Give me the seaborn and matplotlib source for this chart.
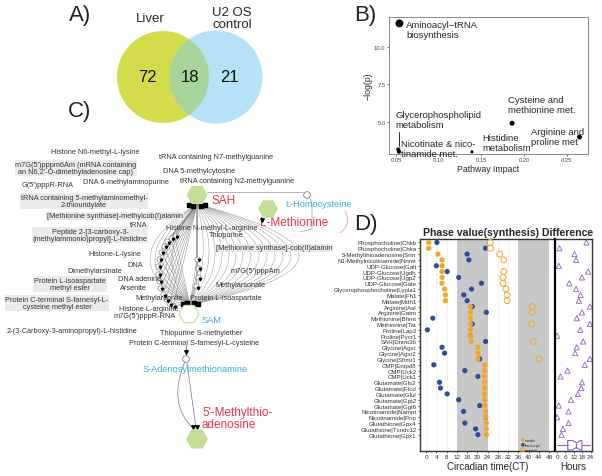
import numpy as np
import matplotlib
matplotlib.use("Agg")
import matplotlib.pyplot as plt
import seaborn as sns
from matplotlib.patches import Circle, RegularPolygon, PathPatch
from matplotlib.path import Path

sns.set_theme(style="ticks")
plt.rcParams['font.family'] = ['Liberation Sans', 'DejaVu Sans']

# ---- A) Venn counts
venn_sets = ["Liver", "U2 OS\ncontrol"]
venn_counts = [72, 18, 21]

# ---- B) pathway analysis
pathways = ["Aminoacyl\u2212tRNA\nbiosynthesis", "Glycerophospholipid\nmetabolism",
            "Nicotinate & nico-\ntinamide met.", "Histidine\nmetabolism",
            "Cysteine and\nmethionine met.", "Arginine and\nproline met"]
impact = [0.054, 0.0527, 0.0535, 0.139, 0.186, 0.265]
neglogp = [11.53, 3.2, 3.05, 3.04, 4.93, 4.02]
hits = [9, 3, 3, 2, 4, 4]

# ---- C) network node names
hubs = ["SAH", "L-Methionine", "SAM", "5'-Methylthio-\nadenosine"]
small_nodes = ["L-Homocysteine", "S-Adenosylmethionamine"]
c_labels = ["Histone N6-methyl-L-lysine",
            "m7G(5')pppm6Am (mRNA containing\nan N6,2'-O-dimethyladenosine cap)",
            "G(5')pppR-RNA", "DNA 6-methylaminopurine",
            "tRNA containing N7-methylguanine", "DNA 5-methylcytosine",
            "tRNA containing N2-methylguanine",
            "tRNA containing 5-methylaminomethyl-\n2-thiouridylate",
            "[Methionine synthase]-methylcob(I)alamin", "tRNA",
            "Peptide 2-[3-carboxy-3-\n(methylammonio)propyl]-L-histidine",
            "Histone N-methyl-L-arginine", "Thiopurine",
            "[Methionine synthase]-cob(II)alamin", "Histone-L-lysine", "DNA",
            "Dimethylarsinate", "DNA adenine", "Protein L-isoaspartate\nmethyl ester",
            "Arsenite", "m7G(5')pppAm", "Methylarsonate", "Methylarsonite",
            "Protein L-isoaspartate",
            "Protein C-terminal S-farnesyl-L-\ncysteine methyl ester",
            "Histone L-arginine", "m7G(5')pppR-RNA",
            "2-(3-Carboxy-3-aminopropyl)-L-histidine", "Thiopurine S-methylether",
            "Protein C-terminal S-farnesyl-L-cysteine"]
# layout (pixel x, pixel y, alignment, shaded box)
c_pos = [(51, 153, 'left', 0), (76, 169, 'center', 1), (22, 186, 'left', 0),
         (83, 183, 'left', 0), (159, 158, 'left', 0), (163, 172, 'left', 0),
         (180, 182, 'left', 0), (84, 202, 'center', 1), (47, 217, 'left', 1),
         (130, 226, 'left', 0), (90, 236, 'center', 1), (166, 229, 'left', 0),
         (209, 236, 'left', 0), (216, 249, 'left', 1), (88, 254, 'left', 0),
         (127, 266, 'left', 0), (67, 272, 'left', 0), (118, 280, 'left', 0),
         (70, 285, 'center', 1), (120, 289, 'left', 0), (231, 272, 'left', 0),
         (215, 286, 'left', 0), (135, 299, 'left', 0), (190, 299, 'left', 0),
         (57, 304, 'center', 1), (119, 310, 'left', 0), (114, 317, 'left', 0),
         (7, 332, 'left', 0), (160, 334, 'left', 0), (129, 344, 'left', 0)]

# ---- D) phase values
pairs = ["Phosphocholine|Chkb", "Phosphocholine|Chka", "5-Methylthioadenosine|Srm",
         "N1-Methylnicotinamide|Nnmt", "UDP-Glucose|Galt", "UDP-Glucose|Ugdh",
         "UDP-Glucose|Ugp2", "UDP-Glucose|Gale", "Glycerophosphocholine|Lypla1",
         "Malate|Fh1", "Malate|Mdh1", "Arginine|Asl", "Arginine|Gatm",
         "Methionine|Bhmt", "Methionine|Tat", "Proline|Lap3", "Proline|Pycr1",
         "SAH|Dnmt3b", "Glycine|Agxt", "Glycine|Agxt2", "Glycine|Shmt1",
         "CMP|Entpd8", "CMP|Uck2", "CMP|Uck1", "Glutamate|Gls2", "Glutamate|Ftcd",
         "Glutamate|Glul", "Glutamate|Gpt2", "Glutamate|Ggt6", "Nicotinamide|Nampt",
         "Nicotinamide|Pnp", "Glutathione|Gpx4", "Glutathione|Txndc12",
         "Glutathione|Gpx1"]
ct_metab = [1.0, 1.0, 4.6, 6.2, 6.2, 6.2, 6.2, 6.2, 7.2, 7.5, 7.5, 17.3, 17.3,
            17.3, 17.3, 17.3, 17.3, 17.6, 20.2, 20.2, 20.2, 22.8, 22.8, 22.8,
            22.8, 22.8, 22.8, 22.8, 22.8, 23.2, 23.2, 23.5, 23.5, 23.5]
ct_transcript = [4.2, 23.2, 16.0, 16.7, 4.0, 8.2, 12.7, 21.6, 17.7, 14.7, 16.0,
                 18.0, 23.5, 2.6, 18.0, 0.5, 17.3, 23.2, 6.2, 7.2, 20.9, 3.0,
                 15.1, 20.2, 5.2, 5.6, 8.2, 12.7, 20.9, 14.6, 23.2, 15.1, 19.3, 20.2]
ct_metab2 = [25.0, 25.1, 28.7, 30.3, np.nan, 30.3, 30.0, 30.0, 31.2, 31.6, 31.6,
             41.4, 41.4, np.nan, 41.2, np.nan, np.nan, 41.8, np.nan, np.nan, 44.1,
             np.nan, np.nan, np.nan, np.nan, np.nan, np.nan, np.nan, np.nan,
             np.nan, np.nan, np.nan, np.nan, np.nan]
hours_diff = [21.0, 1.7, 12.4, 13.6, 1.2, 22.3, 17.8, 8.7, 13.6, 16.8, 15.6,
              23.5, 17.8, 14.1, 23.5, 16.6, 0.0, 18.6, 14.1, 12.9, 23.5, 19.8,
              7.4, 2.5, 17.8, 17.3, 14.9, 9.9, 1.2, 8.2, 0.0, 8.2, 4.2, 3.2]
rows = np.arange(1, len(pairs) + 1)

W, H = 602, 477
fig = plt.figure(figsize=(W / 100, H / 100), dpi=100)


def rect(l, t, r, b):
    return [l / W, 1 - b / H, (r - l) / W, (b - t) / H]


# overlay canvas in pixel coordinates for A and C
ax0 = fig.add_axes([0, 0, 1, 1])
ax0.set_xlim(0, W)
ax0.set_ylim(H, 0)
ax0.axis('off')

for lab, (x, y) in zip(["A)", "B)", "C)", "D)"], [(80, 16), (365, 16), (80, 111), (366, 225)]):
    ax0.text(x, y, lab, fontsize=16, ha='center', va='center', color='#222')

# ---- A) Venn
yellow, blue_c, mix = '#d3dd4c', '#b6e1f6', '#a8d49b'
left_c = Circle((163, 78), 46, fc=yellow, ec='none')
right_c = Circle((216, 78), 46.5, fc=blue_c, ec='none')
ax0.add_patch(left_c)
ax0.add_patch(right_c)
ov = Circle((163, 78), 46, fc=mix, ec='none')
ax0.add_patch(ov)
ov.set_clip_path(right_c)
ax0.text(150, 19, venn_sets[0], fontsize=9.5, ha='center', va='center')
ax0.text(232, 19, venn_sets[1], fontsize=9.5, ha='center', va='center', linespacing=1.05)
for n, x in zip(venn_counts, [147, 190, 229]):
    ax0.text(x, 78, str(n), fontsize=12, ha='center', va='center', color='#111')

# ---- C) network
green, red_t, blue_t = '#c5de96', '#e8334a', '#35aed6'
sah, lmet, sam, mta = (197, 196), (268, 210), (189, 315), (197, 440)
hcy, sadm = (307, 196), (186, 360)
lc = '#9a9a9a'


def arc(p0, a, p2, lw=0.35, color=lc):
    c = (2 * a[0] - (p0[0] + p2[0]) / 2, 2 * a[1] - (p0[1] + p2[1]) / 2)
    pp = Path([p0, c, p2], [Path.MOVETO, Path.CURVE3, Path.CURVE3])
    ax0.add_patch(PathPatch(pp, fc='none', ec=color, lw=lw, zorder=1))


top, bot = (197, 205), (190, 306)
for ax_x in [203, 209, 215, 222, 229, 236, 243, 251, 259, 267, 275, 283, 291, 299]:
    arc(top, (ax_x, 258), bot)
for ax_x in [172, 166, 160, 155, 150]:
    arc(top, (ax_x, 258), bot)

# bundle of intermediate nodes
ang = np.deg2rad([100, 112, 124, 136, 148, 160, 172, 184, 196, 208, 220, 232, 244, 256, 20, 5, -10, -25])
bx = 178 + 20 * np.cos(ang)
by = 272 - 36 * np.sin(ang)
for x, y in zip(bx, by):
    ax0.plot([197, x], [205, y], color='#777', lw=0.3, zorder=1)
    ax0.plot([x, 190], [y, 306], color='#777', lw=0.3, zorder=1)
ax0.scatter(bx, by, s=14, fc='white', ec='#666', lw=0.4, zorder=3)
ax0.scatter(bx + 2, by + 1.5, s=3, marker='v', c='black', zorder=4)

# side links
ax0.plot([207, 303], [193, 193], color=lc, lw=0.5, zorder=1)
ax0.plot([310, 312, 312, 300], [199, 205, 230, 233], color=lc, lw=0.5, zorder=1)
ax0.add_patch(PathPatch(Path([(345, 212), (352, 225), (340, 234)],
                             [Path.MOVETO, Path.CURVE3, Path.CURVE3]),
                        fc='none', ec='#f08080', lw=0.5))
ax0.plot([186, 186], [346, 355], color='#555', lw=0.5)
arc(sadm, (178, 400), (194, 430), lw=0.5, color='#777')
ax0.plot([187, 196], [364, 429], color='#777', lw=0.5)
ax0.scatter([193, 197, 186, 262], [428, 428, 353, 221], s=6, marker='v', c='black', zorder=4)
ax0.scatter([189, 193, 201, 205, 183, 187, 194, 198], [206, 207, 207, 206, 305, 304, 304, 305],
            s=5, marker='s', c='black', zorder=4)

for p, r, fc in [(sah, 10.5, green), (lmet, 10, green), (mta, 11, green)]:
    ax0.add_patch(RegularPolygon(p, 6, radius=r, orientation=np.pi / 6, fc=fc, ec='none', zorder=5))
ax0.add_patch(RegularPolygon(sam, 6, radius=10, orientation=np.pi / 6, fc='white', ec=green, lw=0.8, zorder=5))
for p in [hcy, sadm]:
    ax0.add_patch(Circle(p, 3.3, fc='white', ec='#666', lw=0.5, zorder=5))

ax0.text(212, 201, hubs[0], fontsize=8.5, color=red_t, va='center')
ax0.text(260, 223, hubs[1], fontsize=8.5, color=red_t, va='center')
ax0.text(202, 321, hubs[2], fontsize=6.6, color=blue_t, va='center')
ax0.text(202, 419, hubs[3], fontsize=8.5, color=red_t, va='center', linespacing=1.05)
ax0.text(285, 205, small_nodes[0], fontsize=6.6, color=blue_t, va='center')
ax0.text(143, 370, small_nodes[1], fontsize=6.6, color=blue_t, va='center')

for lab, (x, y, ha, box) in zip(c_labels, c_pos):
    kw = dict(bbox=dict(fc='#ebebeb', ec='none', pad=0.6)) if box else {}
    ax0.text(x, y, lab, fontsize=5.3, ha=ha, va='center', color='#333',
             linespacing=1.0, zorder=6, **kw)

# ---- B) pathway impact scatter
axb = fig.add_axes(rect(389, 18, 588, 155))
sns.scatterplot(x=impact, y=neglogp, size=hits, sizes=(5, 32), color='black',
                edgecolor='none', legend=False, ax=axb)
axb.set_xlim(0.0418, 0.275)
axb.set_ylim(2.9, 11.95)
axb.set_xticks([0.05, 0.10, 0.15, 0.20, 0.25])
axb.set_xticklabels(['0.05', '0.10', '0.15', '0.20', '0.25'])
axb.set_yticks([5.0, 7.5, 10.0])
axb.set_yticklabels(['5.0', '7.5', '10.0'])
axb.tick_params(labelsize=4.2, length=1.5, width=0.5, pad=1, colors='#444')
for s in axb.spines.values():
    s.set_color('#888')
    s.set_linewidth(0.7)
axb.set_xlabel('Pathway Impact', fontsize=6.3, labelpad=1)
axb.set_ylabel('\u2212log(p)', fontsize=6.3, labelpad=1)
offs = [(7, -6.5), (-3, 30), (2, 3.5), (10, 9.5), (-4, 19), (-48, 0.5)]
for lab, x, y, (dx, dy) in zip(pathways, impact, neglogp, offs):
    axb.annotate(lab, (x, y), xytext=(dx, dy), textcoords='offset pixels',
                 fontsize=6.8, ha='left', va='center', linespacing=1.15)
axb.plot([0.0532, 0.0532], [4.35, 3.45], color='black', lw=0.6)

# ---- D) phase values
orange, navy, purple = '#f5a623', '#2f4c9c', '#8e5fbf'
axd = fig.add_axes(rect(420, 240, 555, 452))
axh = fig.add_axes(rect(555, 240, 592, 452))
for a in (axd, axh):
    a.set_ylim(36.8, 0.41)

axd.axvspan(12, 24, color='#c8c8c8', lw=0, zorder=0)
axd.axvspan(36, 48, color='#c8c8c8', lw=0, zorder=0)
for t in [0, 4, 8, 28, 32]:
    axd.axvline(t, color='#ececec', lw=0.5, zorder=0)

sns.scatterplot(x=ct_metab, y=rows, color=orange, s=14, edgecolor='none',
                label='metab', ax=axd, zorder=3)
sns.scatterplot(x=ct_transcript, y=rows, color=navy, s=14, edgecolor='none',
                label='transcript', ax=axd, zorder=2)
sns.scatterplot(x=ct_metab2, y=rows, facecolor='none', edgecolor=orange, s=18,
                linewidth=0.7, label='metab2', ax=axd, zorder=3)
axd.set_xlim(-2.4, 50.3)
axd.set_xticks(range(0, 49, 4))
axd.set_yticks(rows)
axd.set_yticklabels(pairs)
axd.tick_params(axis='y', labelsize=4.4, length=1.5, width=0.5, pad=1, colors='#333')
axd.tick_params(axis='x', labelsize=4.6, length=1.5, width=0.5, pad=1, colors='#333')
axd.set_xlabel('Circadian time(CT)', fontsize=7, labelpad=1)
axd.set_ylabel('')
axd.legend(loc='lower left', bbox_to_anchor=(0.73, -0.015), fontsize=2.8,
           frameon=False, markerscale=0.7, handletextpad=0.1, labelspacing=0.25,
           borderpad=0.1, handlelength=1.0)

sns.scatterplot(x=hours_diff, y=rows, marker='^', facecolor='none', edgecolor=purple,
                s=14, linewidth=0.6, ax=axh)
axh.boxplot(hours_diff, positions=[35.8], orientation='horizontal', notch=True,
            widths=1.6, patch_artist=False, showfliers=False,
            boxprops=dict(color=purple, lw=0.8), whiskerprops=dict(color=purple, lw=0.8),
            capprops=dict(color=purple, lw=0), medianprops=dict(color=purple, lw=0.8))
axh.set_ylim(36.8, 0.41)
axh.set_xlim(-1.5, 25)
axh.set_xticks([0, 6, 12, 18, 24])
axh.set_xticklabels(['0', '6', '12', '18', '24'])
axh.set_yticks([])
axh.tick_params(axis='x', labelsize=4.6, length=1.5, width=0.5, pad=1, colors='#333')
axh.set_xlabel('Hours', fontsize=7, labelpad=1)
axh.set_ylabel('')

for a in (axd, axh):
    for s in a.spines.values():
        s.set_color('#333')
        s.set_linewidth(1.0)
axh.spines['left'].set_color('black')
axh.spines['left'].set_linewidth(1.6)
axd.spines['right'].set_visible(False)

fig.text(423 / W, 1 - 233 / H, 'Phase value(synthesis) Difference', fontsize=7.6,
         fontweight='bold', ha='left', va='center')

fig.savefig('out.png', dpi=100)
